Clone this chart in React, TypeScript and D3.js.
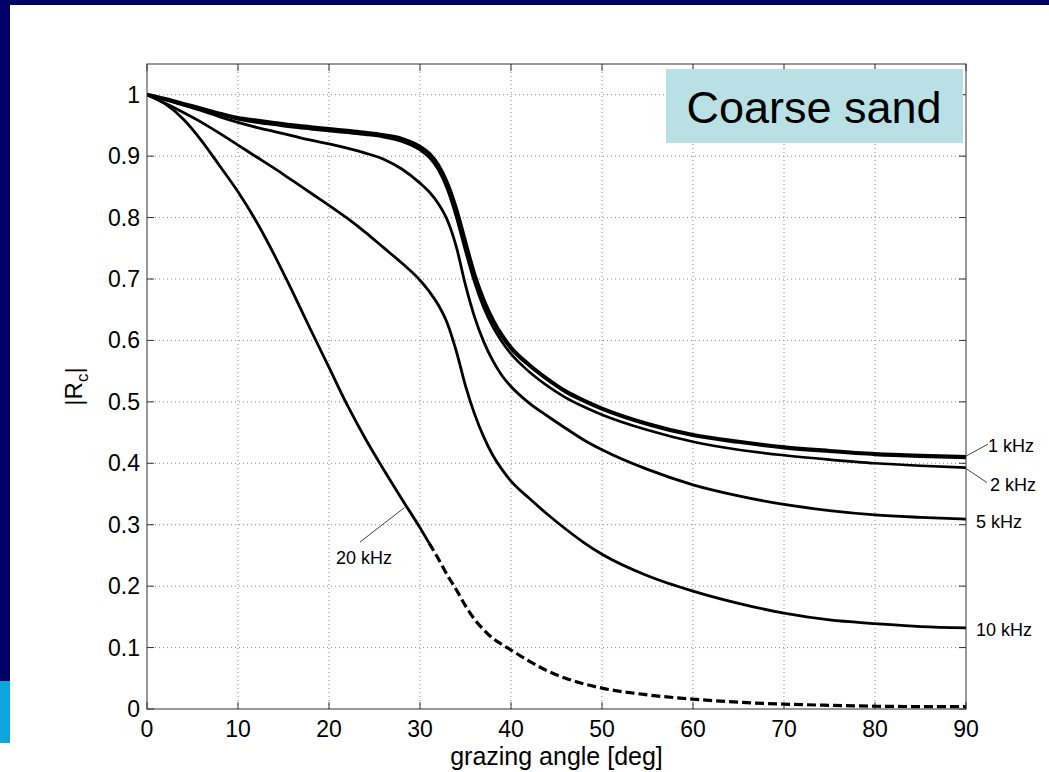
import React from 'react';
import * as d3 from 'd3';

// grazing angle samples [deg]
const angles = [0,2,4,6,8,10,12,14,16,18,20,22,24,26,28,30,31,32,33,34,35,36,37,38,39,40,42,44,46,48,50,55,60,65,70,75,80,85,90];

// |Rc| per frequency
const r1kHz = [1,0.993,0.985,0.977,0.969,0.962,0.958,0.954,0.950,0.947,0.944,0.941,0.938,0.934,0.928,0.915,0.904,0.885,0.855,0.812,0.758,0.706,0.665,0.633,0.608,0.588,0.560,0.537,0.517,0.502,0.489,0.464,0.446,0.435,0.426,0.420,0.415,0.412,0.410];
const r2kHz = [1,0.993,0.984,0.976,0.968,0.960,0.955,0.951,0.947,0.944,0.941,0.938,0.935,0.931,0.924,0.910,0.898,0.878,0.846,0.800,0.745,0.694,0.653,0.622,0.598,0.578,0.549,0.526,0.507,0.492,0.479,0.454,0.435,0.422,0.413,0.406,0.400,0.396,0.393];
const r5kHz = [1,0.992,0.983,0.974,0.964,0.955,0.947,0.940,0.933,0.926,0.920,0.913,0.905,0.895,0.879,0.856,0.842,0.823,0.796,0.752,0.690,0.638,0.598,0.567,0.543,0.525,0.498,0.477,0.457,0.438,0.422,0.390,0.365,0.347,0.333,0.323,0.316,0.312,0.309];
const r10kHz = [1,0.986,0.971,0.955,0.937,0.918,0.899,0.880,0.860,0.840,0.820,0.799,0.776,0.751,0.726,0.698,0.680,0.658,0.628,0.582,0.526,0.480,0.443,0.413,0.390,0.371,0.343,0.317,0.293,0.271,0.252,0.217,0.192,0.172,0.156,0.145,0.139,0.134,0.132];
const r20kHz = [1,0.985,0.960,0.925,0.884,0.842,0.794,0.739,0.679,0.617,0.556,0.495,0.440,0.390,0.342,0.295,0.270,0.245,0.218,0.194,0.168,0.146,0.129,0.115,0.105,0.096,0.078,0.062,0.050,0.041,0.034,0.023,0.016,0.011,0.008,0.006,0.0045,0.004,0.004];
const dashedFromAngle = 31; // 20 kHz curve drawn dashed beyond this angle

const xTicks = [0,10,20,30,40,50,60,70,80,90];
const yTicks = [0,0.1,0.2,0.3,0.4,0.5,0.6,0.7,0.8,0.9,1];
const xTickLabels = ['0','10','20','30','40','50','60','70','80','90'];
const yTickLabels = ['0','0.1','0.2','0.3','0.4','0.5','0.6','0.7','0.8','0.9','1'];

const seriesNames = ['1 kHz','2 kHz','5 kHz','10 kHz','20 kHz'];
const seriesValues = [r1kHz, r2kHz, r5kHz, r10kHz, r20kHz];

const W = 1049, H = 772;
const M = { left: 147, right: 966, top: 64, bottom: 709 };
const FONT = 'Arial, "Liberation Sans", Helvetica, sans-serif';

export default function App() {
  const x = d3.scaleLinear().domain([0, 90]).range([M.left, M.right]);
  const y = d3.scaleLinear().domain([0, 1.05]).range([M.bottom, M.top]);
  const line = d3.line<[number, number]>()
    .x(d => x(d[0])).y(d => y(d[1])).curve(d3.curveMonotoneX);

  const pts = (vals: number[]) => angles.map((a, i) => [a, vals[i]] as [number, number]);
  const widths = [4.2, 2.6, 2.8, 2.8, 2.8];

  const p20 = pts(r20kHz);
  const solid20 = p20.filter(p => p[0] <= dashedFromAngle);
  const dashed20 = p20.filter(p => p[0] >= dashedFromAngle);

  const ends = seriesValues.map(v => v[v.length - 1]);
  const xr = x(90);
  // 20 kHz leader target
  const i28 = angles.indexOf(28);
  const lead20 = [x(28.3), y(r20kHz[i28] - 0.3 * (r20kHz[i28] - r20kHz[i28 + 1]))];

  const tickLen = 7;

  return (
    <svg width={W} height={H} style={{ position: 'absolute', left: 0, top: 0, background: '#fff' }}>
      {/* slide decorations */}
      <rect x={0} y={0} width={W} height={5} fill="#000066" />
      <rect x={0} y={0} width={10} height={681} fill="#000066" />
      <rect x={0} y={681} width={10} height={62} fill="#0aa7dc" />

      <defs>
        <clipPath id="plotClip">
          <rect x={M.left} y={M.top} width={M.right - M.left} height={M.bottom - M.top} />
        </clipPath>
      </defs>

      {/* grid */}
      <g stroke="#8a8a8a" strokeWidth={1} strokeDasharray="1,3">
        {xTicks.slice(1, -1).map(t => (
          <line key={'gx' + t} x1={x(t)} x2={x(t)} y1={M.top} y2={M.bottom} />
        ))}
        {yTicks.slice(1).map(t => (
          <line key={'gy' + t} x1={M.left} x2={M.right} y1={y(t)} y2={y(t)} />
        ))}
      </g>

      {/* ticks */}
      <g stroke="#333" strokeWidth={1}>
        {xTicks.map(t => (
          <g key={'tx' + t}>
            <line x1={x(t)} x2={x(t)} y1={M.bottom} y2={M.bottom - tickLen} />
            <line x1={x(t)} x2={x(t)} y1={M.top} y2={M.top + tickLen} />
          </g>
        ))}
        {yTicks.map(t => (
          <g key={'ty' + t}>
            <line x1={M.left} x2={M.left + tickLen} y1={y(t)} y2={y(t)} />
            <line x1={M.right} x2={M.right - tickLen} y1={y(t)} y2={y(t)} />
          </g>
        ))}
      </g>

      {/* curves */}
      <g clipPath="url(#plotClip)" fill="none" stroke="#000" strokeLinejoin="round">
        {seriesValues.slice(0, 4).map((v, i) => (
          <path key={seriesNames[i]} d={line(pts(v)) || ''} strokeWidth={widths[i]} />
        ))}
        <path d={line(solid20) || ''} strokeWidth={widths[4]} />
        <path d={line(dashed20) || ''} strokeWidth={3.2} strokeDasharray="9,4" />
      </g>

      {/* frame */}
      <rect x={M.left} y={M.top} width={M.right - M.left} height={M.bottom - M.top}
        fill="none" stroke="#333" strokeWidth={1} />

      {/* tick labels */}
      <g fontFamily={FONT} fontSize={23} fill="#000">
        {xTicks.map((t, i) => (
          <text key={'lx' + t} x={x(t)} y={737} textAnchor="middle">{xTickLabels[i]}</text>
        ))}
        {yTicks.map((t, i) => (
          <text key={'ly' + t} x={140} y={y(t) + 8} textAnchor="end">{yTickLabels[i]}</text>
        ))}
      </g>

      {/* axis labels */}
      <text x={(M.left + M.right) / 2} y={765} textAnchor="middle" fontFamily={FONT} fontSize={25}>grazing angle [deg]</text>
      <text transform={`translate(82,${(M.top + M.bottom) / 2}) rotate(-90)`} textAnchor="middle" fontFamily={FONT} fontSize={24}>
        |R<tspan fontSize={17} dy={6}>c</tspan><tspan dy={-6}>|</tspan>
      </text>

      {/* legend box */}
      <rect x={666} y={69} width={297} height={74} fill="#b9e0e4" />
      <text x={814} y={123} textAnchor="middle" fontFamily={FONT} fontSize={45}>Coarse sand</text>

      {/* curve labels */}
      <g fontFamily={FONT} fontSize={18} fill="#000">
        <line x1={xr} y1={y(ends[0]) - 1} x2={xr + 22} y2={y(ends[0]) - 13} stroke="#444" strokeWidth={1} />
        <text x={xr + 22} y={y(ends[0]) - 5}>{seriesNames[0]}</text>
        <line x1={xr} y1={y(ends[1]) + 1} x2={xr + 21} y2={y(ends[1]) + 15} stroke="#444" strokeWidth={1} />
        <text x={xr + 24} y={y(ends[1]) + 23}>{seriesNames[1]}</text>
        <text x={xr + 10} y={y(ends[2]) + 9}>{seriesNames[2]}</text>
        <text x={xr + 10} y={y(ends[3]) + 8}>{seriesNames[3]}</text>
        <line x1={lead20[0]} y1={lead20[1]} x2={360} y2={542} stroke="#444" strokeWidth={1} />
        <text x={336} y={564}>{seriesNames[4]}</text>
      </g>
    </svg>
  );
}
